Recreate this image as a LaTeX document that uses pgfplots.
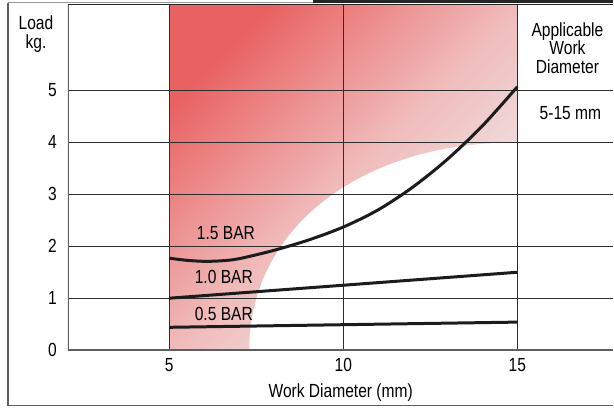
\documentclass[border=0pt]{standalone}
\usepackage{fontspec}
\setmainfont{Liberation Sans}[FakeStretch=0.82]
\usepackage{pgfplots}
\pgfplotsset{compat=1.18}

\definecolor{shadeA}{RGB}{233,98,98}
\definecolor{shadeB}{RGB}{240,186,186}
\definecolor{shadeC}{RGB}{240,220,220}
\definecolor{shadeD}{RGB}{243,241,241}
\definecolor{frame}{RGB}{95,95,95}
\definecolor{curve}{RGB}{28,28,28}

\pgfdeclarehorizontalshading{redfade}{100bp}{color(0bp)=(shadeA); color(25bp)=(shadeA); color(50bp)=(shadeB); color(65bp)=(shadeC); color(75bp)=(shadeD); color(100bp)=(shadeD)}

\newcommand\lbl{\fontsize{19}{18.5}\selectfont}

\begin{document}
\begin{tikzpicture}
\path (0pt,0pt) rectangle (614pt,408pt);

% outer frame
\draw[line width=1.2pt, frame] (8pt,405.3pt) -- (8pt,2pt) -- (614pt,2pt);
\draw[line width=1pt, black!40] (8pt,405.3pt) -- (313pt,405.3pt);
\fill[black!85] (313pt,404.6pt) rectangle (614pt,408pt);

\begin{axis}[
    at={(68pt,57.5pt)}, anchor=south west,
    scale only axis, width=546pt, height=346pt,
    set layers,
    xmin=2.09, xmax=17.76, ymin=0, ymax=6.654,
    xtick={5,10,15}, ytick={1,...,5},
    extra y ticks={0}, extra y tick style={grid=none},
    axis line style={draw=none},
    tick style={draw=none},
    grid=major,
    grid style={line width=0.9pt, black!82},
    /pgf/number format/assume math mode=true,
    tick label style={font=\lbl, inner sep=0pt},
    yticklabel style={xshift=-11pt},
    xticklabel style={yshift=-8pt},
    xlabel={Work Diameter (mm)},
    xlabel style={at={(rel axis cs:0.5,0)}, anchor=center, inner sep=0pt,
                  yshift=-42pt, font=\lbl},
]
\begin{pgfonlayer}{axis background}
  \shade[shading=redfade, shading angle=-45]
    (axis cs:5,0) rectangle (axis cs:15,6.654);
  \fill[white] (axis cs:7.3,0) .. controls (axis cs:7.3,2.35) and (axis cs:10.5,4.0)
    .. (axis cs:15,4.0) -- (axis cs:15,0) -- cycle;
\end{pgfonlayer}

\draw[line width=1.4pt, frame] (rel axis cs:0,1) -- (rel axis cs:0,0) -- (rel axis cs:1,0);
\draw[line width=1.2pt, black!85] (rel axis cs:0,1) -- (rel axis cs:1,1);

% 1.5 BAR
\addplot[line width=3pt, color=curve, smooth] coordinates {
  (5,1.77) (5.5,1.73) (6,1.71) (6.5,1.72) (7,1.76) (8,1.92) (9,2.12)
  (10,2.37) (11,2.70) (12,3.14) (13,3.68) (14,4.32) (15,5.07)
};
% 1.0 BAR
\addplot[line width=3pt, color=curve] coordinates {
  (5,1.00) (10,1.25) (15,1.50)
};
% 0.5 BAR
\addplot[line width=3pt, color=curve] coordinates {
  (5,0.44) (10,0.49) (15,0.54)
};

\node[anchor=west, inner sep=0pt, font=\lbl] at (axis cs:5.79,2.26) {1.5 BAR};
\node[anchor=west, inner sep=0pt, font=\lbl] at (axis cs:5.73,1.41) {1.0 BAR};
\node[anchor=west, inner sep=0pt, font=\lbl] at (axis cs:5.73,0.70) {0.5 BAR};
\end{axis}

\node[align=center, inner sep=0pt, font=\lbl] at (36pt,374pt) {Load\\kg.};
\node[align=center, inner sep=0pt, font=\lbl] at (568pt,360pt) {Applicable\\Work\\Diameter};
\node[inner sep=0pt, font=\lbl] at (571pt,295pt) {5-15 mm};
\end{tikzpicture}
\end{document}
